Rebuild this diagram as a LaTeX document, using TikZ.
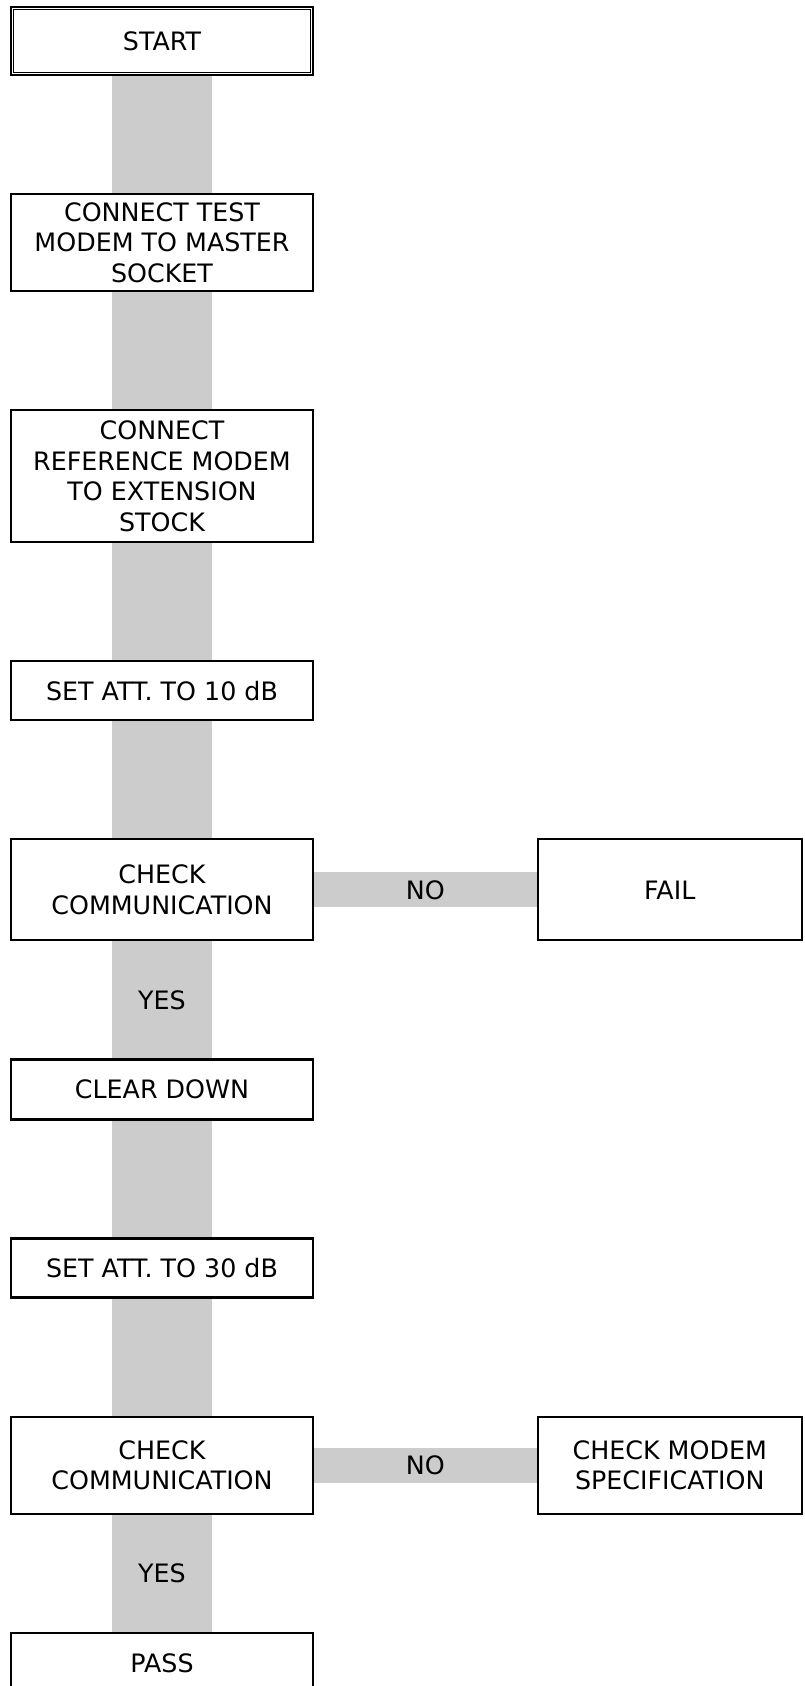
\documentclass[tikz,border=0pt]{standalone}
\usepackage{fontspec}
\setmainfont{DejaVu Sans}
\usetikzlibrary{positioning,backgrounds}

\begin{document}
\begin{tikzpicture}[node distance=87.7pt,
                box/.style={draw,line width=1.6pt,fill=white,align=center,
                    minimum width=226.5pt,inner sep=0pt,
                    font=\fontsize{19pt}{22.9pt}\selectfont},
                link/.style={draw=black!20,line width=75pt},
                side/.style={draw=black!20,line width=26.25pt},
                lbl/.style={font=\fontsize{19pt}{22.9pt}\selectfont}]
                \path[use as bounding box,clip] (0,0) rectangle (603pt,-1264.5pt);

                % Define the steps as nodes
                \node[box,minimum height=51pt,line width=1.8pt] (start) at (121.5pt,-30.75pt) {START};
                \draw[line width=0.6pt] ([shift={(2.7pt,-2.7pt)}]start.north west) rectangle ([shift={(-2.7pt,2.7pt)}]start.south east);
                \node[box,minimum height=72.75pt,below=of start] (test) {CONNECT TEST\\MODEM TO MASTER\\SOCKET};
                \node[box,minimum height=99pt,below=of test]     (ref)  {CONNECT\\REFERENCE MODEM\\TO EXTENSION\\STOCK};
                \node[box,minimum height=44.25pt,below=of ref]   (att10) {SET ATT. TO 10 dB};
                \node[box,minimum height=75.75pt,below=of att10] (chk1) {CHECK\\COMMUNICATION};
                \node[box,minimum width=198pt,minimum height=75.75pt,right=167pt of chk1] (fail) {FAIL};
                \node[box,minimum height=45pt,below=of chk1]     (clear) {CLEAR DOWN};
                \node[box,minimum height=44.25pt,below=of clear] (att30) {SET ATT. TO 30 dB};
                \node[box,minimum height=72.75pt,below=of att30] (chk2) {CHECK\\COMMUNICATION};
                \node[box,minimum width=198pt,minimum height=72.75pt,right=167pt of chk2] (spec) {CHECK MODEM\\SPECIFICATION};
                \node[box,minimum height=46.5pt,below=of chk2]   (pass) {PASS};

                % Connect the steps with grey bars
                \begin{scope}[on background layer]
                \path (start) edge [link] (test);
                \path (test) edge [link] (ref);
                \path (ref) edge [link] (att10);
                \path (att10) edge [link] (chk1);
                \path (chk1) edge [side] node[lbl] {NO} (fail);
                \path (chk1) edge [link] node[lbl] {YES} (clear);
                \path (clear) edge [link] (att30);
                \path (att30) edge [link] (chk2);
                \path (chk2) edge [side] node[lbl] {NO} (spec);
                \path (chk2) edge [link] node[lbl] {YES} (pass);
                \end{scope}

            \end{tikzpicture}
\end{document}
